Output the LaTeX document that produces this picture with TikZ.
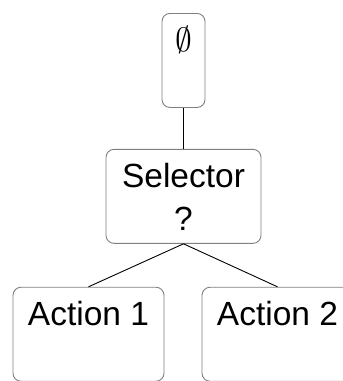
\documentclass[tikz,border=0pt]{standalone}
\usepackage{fontspec}
\setmainfont{Liberation Sans}
\usetikzlibrary{positioning}
\definecolor{boxgray}{RGB}{128, 128, 128}

\begin{document}
\begin{tikzpicture}[x=1pt, y=-1pt, node distance=41pt, auto,
        btnode/.style={
            rectangle,
            rounded corners=8pt,
            draw=boxgray,
            line width=0.9pt,
            inner xsep=0pt,
            inner ysep=0pt,
            text height=38pt,
            text depth=56pt,
            font=\fontsize{33.5}{43}\selectfont
        }
    ]

        \useasboundingbox (0,0) rectangle (343,381);

        \node (0) [
            btnode,
            minimum width=43pt,
            anchor=north
        ] at (183.5,13)
        {\scalebox{1.35}{$\emptyset$}};

        \node (1) [
            btnode,
            minimum width=155pt,
            below=of 0
        ]
        {\begin{tabular}[t]{@{}c@{}}Selector\\?\end{tabular}};

        \node (2) [
            btnode,
            minimum width=151pt,
            below=43pt of 1,
            xshift=-95pt
        ]
        {Action 1};

        \node (3) [
            btnode,
            minimum width=151pt,
            below=43pt of 1,
            xshift=94pt
        ]
        {Action 2};

        \draw[-, line width=0.9pt] (0) to (1);
        \draw[-, line width=0.9pt] (1.south) to (2.north);
        \draw[-, line width=0.9pt] (1.south) to (3.north);
    \end{tikzpicture}
\end{document}
